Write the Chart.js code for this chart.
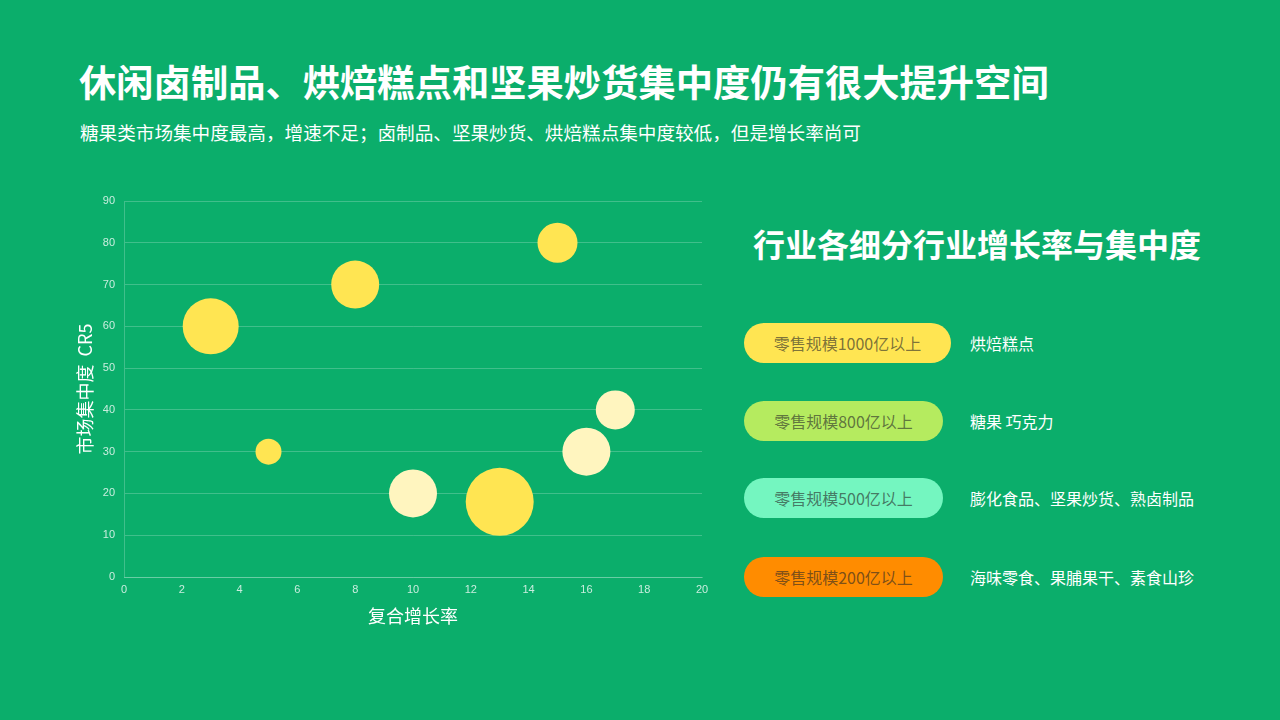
<!DOCTYPE html>
<html>
<head>
<meta charset="utf-8">
<script src="https://cdn.jsdelivr.net/npm/chart.js@4"></script>
<style>
    html, body { margin: 0; padding: 0; }
    body {
        width: 1280px; height: 720px; overflow: hidden; position: relative;
        background: #0bae6b; color: #fff;
        font-family: "Noto Sans CJK SC", "Noto Sans", sans-serif;
    }
    h1 {
        position: absolute; left: 79px; top: 54px; margin: 0;
        font-size: 37.3px; font-weight: 700; line-height: 54px; white-space: nowrap;
    }
    .sub {
        position: absolute; left: 80px; top: 119px; margin: 0;
        font-size: 18.6px; line-height: 26px; white-space: nowrap;
    }
    .chart-box { position: absolute; left: 60px; top: 185px; width: 660px; height: 450px; }
    h2 {
        position: absolute; left: 753px; top: 220px; margin: 0;
        font-size: 32px; font-weight: 700; line-height: 46px; white-space: nowrap;
    }
    .row { position: absolute; left: 744px; height: 40px; display: flex; align-items: center; }
    .pill {
        height: 40px; border-radius: 20px; display: flex; align-items: center; justify-content: center;
        font-size: 16px; color: rgba(40, 40, 40, 0.62);
    }
    .label { position: absolute; left: 226px; font-size: 16px; white-space: nowrap; }
</style>
</head>
<body>
<h1>休闲卤制品、烘焙糕点和坚果炒货集中度仍有很大提升空间</h1>
<p class="sub">糖果类市场集中度最高，增速不足；卤制品、坚果炒货、烘焙糕点集中度较低，但是增长率尚可</p>
<div class="chart-box"><canvas id="bubbleChart"></canvas></div>
<h2>行业各细分行业增长率与集中度</h2>
<div id="legend"></div>
<script>
// bubbles (growth %, CR5, radius px)
const brightX = [3, 5, 8, 13, 15];
const brightY = [60, 30, 70, 18, 80];
const brightR = [28, 13, 24, 34, 20];
const paleX = [10, 16, 17];
const paleY = [20, 30, 40];
const paleR = [24, 24, 19.5];

const legendNames = ['零售规模1000亿以上', '零售规模800亿以上', '零售规模500亿以上', '零售规模200亿以上'];
const legendItems = ['烘焙糕点', '糖果 巧克力', '膨化食品、坚果炒货、熟卤制品', '海味零食、果脯果干、素食山珍'];
const legendColors = ['#ffe552', '#b5eb5f', '#74f6c0', '#ff8c00'];
const legendTops = [323, 401, 478, 557];
const legendWidths = [207, 199, 199, 199];

const legend = document.getElementById('legend');
legendNames.forEach((name, i) => {
    const row = document.createElement('div');
    row.className = 'row';
    row.style.top = legendTops[i] + 'px';
    row.innerHTML = '<div class="pill" style="width:' + legendWidths[i] + 'px;background:' + legendColors[i] + '">' + name + '</div>' +
        '<div class="label">' + legendItems[i] + '</div>';
    legend.appendChild(row);
});

const toPoints = (xs, ys, rs) => xs.map((x, i) => ({x: x, y: ys[i], r: rs[i]}));
const lineColor = 'rgba(255, 255, 255, 0.22)';
const tickColor = 'rgba(255, 255, 255, 0.78)';

new Chart(document.getElementById('bubbleChart').getContext('2d'), {
    type: 'bubble',
    data: {
        datasets: [
            {
                data: toPoints(brightX, brightY, brightR),
                backgroundColor: '#ffe552',
                borderWidth: 0,
                hoverRadius: 0
            },
            {
                data: toPoints(paleX, paleY, paleR),
                backgroundColor: '#fff5bf',
                borderWidth: 0,
                hoverRadius: 0
            }
        ]
    },
    options: {
        responsive: true,
        maintainAspectRatio: false,
        animation: false,
        layout: { autoPadding: false, padding: { top: 16, right: 18, left: 0, bottom: 0 } },
        plugins: { legend: { display: false }, tooltip: { enabled: false } },
        scales: {
            x: {
                type: 'linear',
                min: 0, max: 20,
                ticks: {
                    stepSize: 2, padding: 6, color: tickColor,
                    font: { family: 'Liberation Sans', size: 11 }
                },
                grid: { display: false, drawTicks: false },
                border: { color: lineColor },
                title: {
                    display: true, text: '复合增长率', color: '#fff',
                    font: { family: 'Noto Sans CJK SC', size: 18 },
                    padding: { top: 0, bottom: 8 }
                },
                afterFit: scale => { scale.height = 58; }
            },
            y: {
                min: 0, max: 90,
                ticks: {
                    stepSize: 10, padding: 9, color: tickColor,
                    font: { family: 'Liberation Sans', size: 11 }
                },
                grid: { color: lineColor, drawTicks: false },
                border: { color: lineColor },
                title: {
                    display: true, text: '市场集中度  CR5', color: '#fff',
                    font: { family: 'Noto Sans CJK SC', size: 18 },
                    padding: { top: 14, bottom: 0 }
                },
                afterFit: scale => { scale.width = 64; }
            }
        }
    }
});
</script>
</body>
</html>
